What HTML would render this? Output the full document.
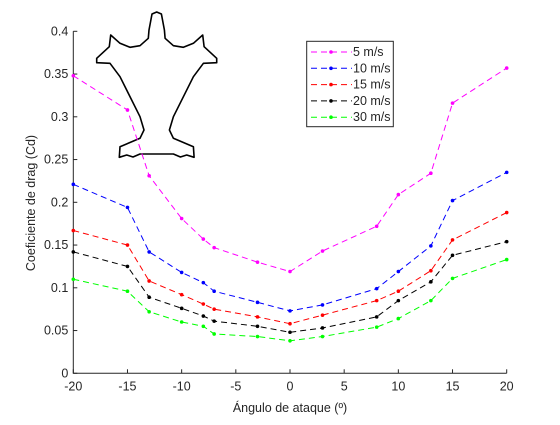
<!DOCTYPE html>
<html><head><meta charset="utf-8"><style>
body{margin:0;background:#fff;}
svg text{font-family:"Liberation Sans",sans-serif;font-size:12.5px;fill:#262626;}
</style></head><body>
<svg id="c" width="560" height="420">
<rect width="560" height="420" fill="#fff"/>
<g id="airfoil"></g>
<g id="plot"></g>
</svg>
<script>
const angles=[-20,-15,-13,-10,-8,-7,-3,0,3,8,10,13,15,20];
const s5=[0.348,0.308,0.231,0.181,0.157,0.147,0.130,0.119,0.143,0.172,0.209,0.234,0.316,0.357];
const s10=[0.221,0.194,0.142,0.118,0.106,0.096,0.083,0.073,0.080,0.099,0.119,0.149,0.202,0.235];
const s15=[0.167,0.150,0.108,0.092,0.081,0.075,0.066,0.058,0.068,0.085,0.096,0.120,0.156,0.188];
const s20=[0.142,0.125,0.089,0.076,0.067,0.061,0.055,0.048,0.053,0.066,0.085,0.107,0.138,0.154];
const s30=[0.110,0.096,0.072,0.060,0.055,0.046,0.043,0.038,0.043,0.054,0.064,0.085,0.111,0.133];
const seriesNames=["5 m/s","10 m/s","15 m/s","20 m/s","30 m/s"];
const seriesColors=["#ff00ff","#0000ff","#ff0000","#000000","#00ff00"];
const xTicks=[-20,-15,-10,-5,0,5,10,15,20];
const yTicks=[0,0.05,0.1,0.15,0.2,0.25,0.3,0.35,0.4];
const NS="http://www.w3.org/2000/svg";
const L=73.3,R=506.7,B=373.3,T=31.3;
const xs=v=>L+(v+20)/40*(R-L);
const ys=v=>B-v/0.4*(B-T);
const plot=document.getElementById('plot');
function mk(t,a,p){const e=document.createElementNS(NS,t);for(const k in a)e.setAttribute(k,a[k]);(p||plot).appendChild(e);return e;}
const half=[[156.7,12],[152,14],[149,30],[148.3,38.3],[140,45.7],[130,47.3],[120,43.3],[110.7,35],[109.3,46.7],[96.7,58.3],[96.7,62.7],[110,63.3],[120,76.7],[140,116.7],[144,130],[140,138.3],[120,146.7],[119.3,157.3],[126.7,155],[133,157],[140,154],[156.7,154]];
let pts=half.map(p=>p.join(',')); let rt=half.slice().reverse().map(p=>[313.4-p[0],p[1]].join(','));
mk('polygon',{points:pts.concat(rt).join(' '),fill:'none',stroke:'#000','stroke-width':1.6,'stroke-linejoin':'round'},document.getElementById('airfoil'));
const ax=mk('path',{d:`M${L},${T} V${B} H${R}`,fill:'none',stroke:'#262626','stroke-width':1});


xTicks.forEach(v=>{mk('line',{x1:xs(v),x2:xs(v),y1:B,y2:B-4,stroke:'#262626'});
 const t=mk('text',{x:xs(v),y:B+17,'text-anchor':'middle'});t.textContent=v;
 
 });
yTicks.forEach(v=>{mk('line',{x1:L,x2:L+4,y1:ys(v),y2:ys(v),stroke:'#262626'});
 const t=mk('text',{x:L-5,y:ys(v)+4,'text-anchor':'end'});t.textContent=String(+v.toFixed(2));
 
 });
const xt=mk('text',{x:290,y:412,'text-anchor':'middle','font-size':'14'});xt.textContent='Ángulo de ataque (º)';


const yt=mk('text',{x:0,y:0,'text-anchor':'middle',transform:'translate(35,203) rotate(-90)','font-size':'14'});yt.textContent='Coeficiente de drag (Cd)';


[s5,s10,s15,s20,s30].forEach((s,i)=>{
 const g=mk('g',{});
 
 
 mk('polyline',{points:s.map((v,j)=>xs(angles[j])+','+ys(v)).join(' '),fill:'none',stroke:seriesColors[i],'stroke-width':1,'stroke-dasharray':'6,4'},g);
 s.forEach((v,j)=>mk('circle',{cx:xs(angles[j]),cy:ys(v),r:1.8,fill:seriesColors[i]},g));
});
const lg=mk('g',{});


mk('rect',{x:306.7,y:41.3,width:86.6,height:85.4,fill:'#fff',stroke:'#262626','stroke-width':1},lg);
seriesNames.forEach((n,i)=>{const y=52+i*16.3;
 const e=mk('g',{},lg);
 
 
 mk('line',{x1:311,x2:352,y1:y,y2:y,stroke:seriesColors[i],'stroke-dasharray':'6,4'},e);
 mk('circle',{cx:331,cy:y,r:1.8,fill:seriesColors[i]},e);
 const t=mk('text',{x:353,y:y+4,'font-size':'12'},e);t.textContent=n;});
</script>
</body></html>
